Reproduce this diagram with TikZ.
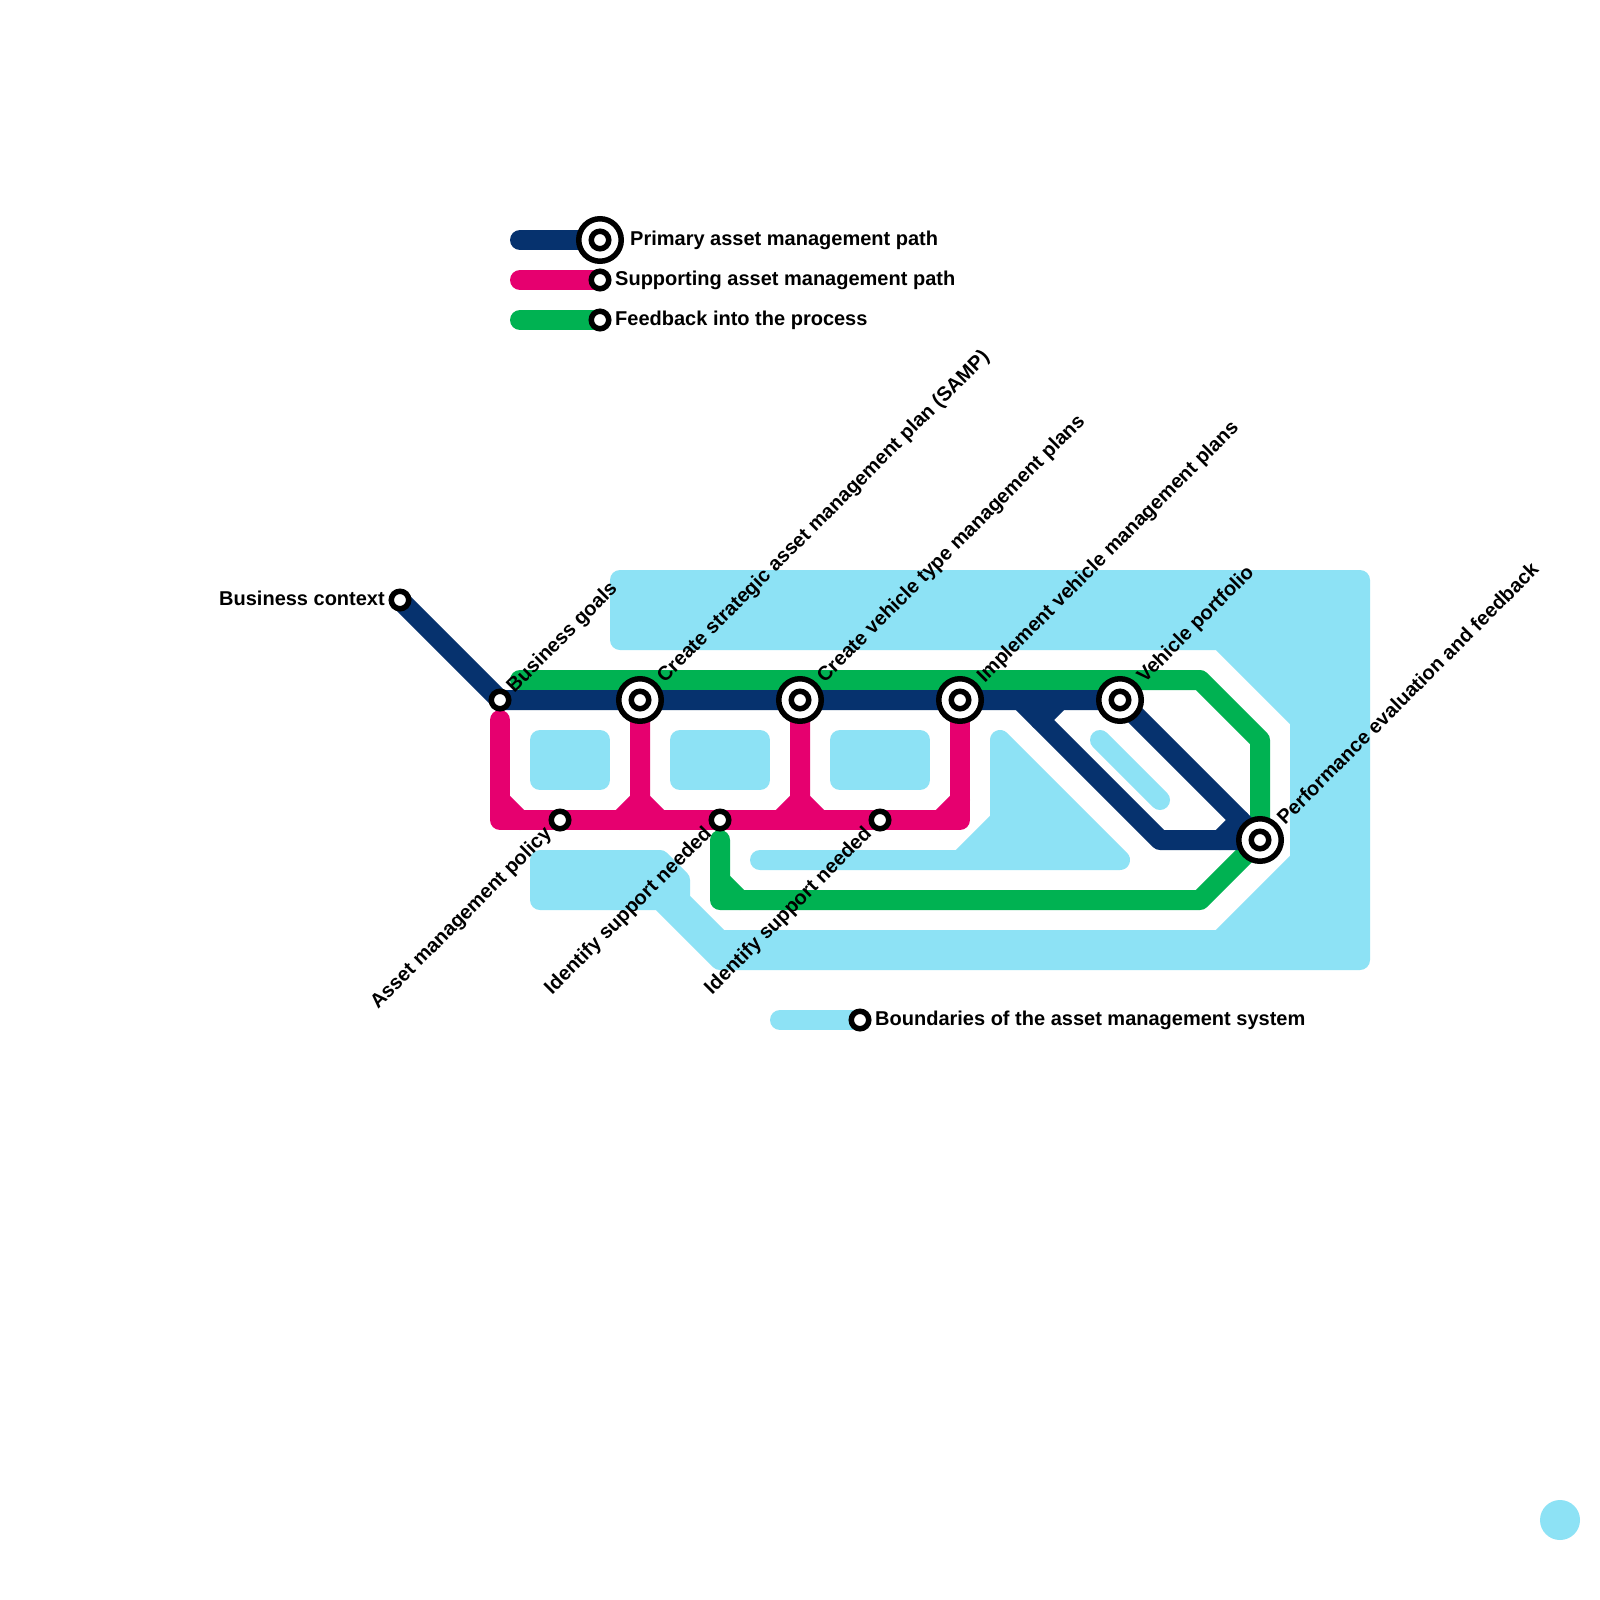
\documentclass[tikz,border=0pt]{standalone}
\usepackage{fontspec}
\setmainfont{Liberation Sans}
\usetikzlibrary{backgrounds}
\definecolor{navyline}{HTML}{06326E}
\definecolor{pinkline}{HTML}{E6006F}
\definecolor{greenline}{HTML}{00B252}
\definecolor{paleline}{HTML}{8DE2F5}

\begin{document}
\begin{tikzpicture}[
    x=20pt, y=-20pt,
    track/.style={line width=20pt, line cap=round, line join=round},
    boundary/.style={track, draw=paleline, fill=paleline},
    stop/.style={circle, draw=black, fill=white, line width=5.5pt, minimum size=17.5pt, inner sep=0pt},
    hub/.style={stop, minimum size=42.5pt, path picture={\draw[black, fill=white, line width=5.5pt] (path picture bounding box.center) circle (8.75pt);}},
    plain/.style={inner sep=0pt, font=\fontsize{20}{23}\selectfont\bfseries},
    textup/.style={plain, rotate=45, anchor=west},
    textdown/.style={plain, rotate=45, anchor=east}
]
    \useasboundingbox (0,0) rectangle (80,80);

    % Stops on the primary path
    \node[stop] (context) at (20,30) {};
    \node[stop] (goals) at (25,35) {};
    \node[hub] (samp) at (32,35) {};
    \node[hub] (typeplan) at (40,35) {};
    \node[hub] (vehplan) at (48,35) {};
    \node[hub] (portfolio) at (56,35) {};
    \node[hub] (review) at (63,42) {};

    % Stops on the supporting path
    \node[stop] (policy) at (28,41) {};
    \node[stop] (supportone) at (36,41) {};
    \node[stop] (supporttwo) at (44,41) {};

    % Stop labels
    \node[plain, anchor=east] (contexttext) at (19.25,29.9) {Business context};
    \node[textup] (goalstext) at (25.53,34.5) {Business goals};
    \node[textup] (samptext) at (33.05,34.0) {Create strategic asset management plan (SAMP)};
    \node[textup] (typeplantext) at (41.05,34.0) {Create vehicle type management plans};
    \node[textup] (vehplantext) at (49.05,34.0) {Implement vehicle management plans};
    \node[textup] (portfoliotext) at (57.05,34.0) {Vehicle portfolio};
    \node[textup] (reviewtext) at (64.0,41.03) {Performance evaluation and feedback};
    \node[textdown] (policytext) at (27.45,41.55) {Asset management policy};
    \node[textdown] (supportonetext) at (35.45,41.55) {Identify support needed};
    \node[textdown] (supporttwotext) at (43.45,41.55) {Identify support needed};

    % Legend
    \node[hub] (keyprimary) at (30,12) {};
    \node[stop] (keysupport) at (30,14) {};
    \node[stop] (keyfeedback) at (30,16) {};
    \node[stop] (keyboundary) at (43,51) {};
    \node[plain, anchor=west] (keyprimarytext) at (31.5,12) {Primary asset management path};
    \node[plain, anchor=west] (keysupporttext) at (30.75,14) {Supporting asset management path};
    \node[plain, anchor=west] (keyfeedbacktext) at (30.75,16) {Feedback into the process};
    \node[plain, anchor=west] (keyboundarytext) at (43.75,51) {Boundaries of the asset management system};

    % Bends and free ends
    \coordinate (navyfork) at (51,35);
    \coordinate (navybend) at (58,42);
    \coordinate (navytiea) at (53,35);
    \coordinate (navytieb) at (52,36);
    \coordinate (navytiec) at (61,42);
    \coordinate (navytied) at (62,41);
    \coordinate (pinkstart) at (25,36);
    \coordinate (pinkleft) at (25,41);
    \coordinate (pinkright) at (48,41);
    \coordinate (pinklefta) at (25,40);
    \coordinate (pinkleftb) at (26,41);
    \coordinate (pinksampa) at (32,40);
    \coordinate (pinksampb) at (31,41);
    \coordinate (pinksampc) at (33,41);
    \coordinate (pinktypea) at (40,40);
    \coordinate (pinktypeb) at (39,41);
    \coordinate (pinktypec) at (41,41);
    \coordinate (pinkveha) at (48,40);
    \coordinate (pinkvehb) at (47,41);
    \coordinate (greenstart) at (36,42);
    \coordinate (greencorner) at (36,45);
    \coordinate (greentiea) at (36,44);
    \coordinate (greentieb) at (37,45);
    \coordinate (greenlow) at (60,45);
    \coordinate (greenside) at (63,37);
    \coordinate (greentop) at (60,34);
    \coordinate (greenend) at (26,34);
    \coordinate (keyprimarystart) at (26,12);
    \coordinate (keysupportstart) at (26,14);
    \coordinate (keyfeedbackstart) at (26,16);
    \coordinate (keyboundarystart) at (39,51);

    \begin{scope}[on background layer]
        % System boundary
        \fill[white] (0,0) rectangle (80,80);
        \path[boundary] (31,29) -- (68,29) -- (68,48) -- (36,48) -- (33,45) -- (27,45) -- (27,43) -- (33,43) -- (34,44) -- (34,45) -- (36,47) -- (61,47) -- (65,43) -- (65,36) -- (61,32) -- (31,32) -- cycle;
        \path[boundary] (27,37) rectangle (30,39);
        \path[boundary] (34,37) rectangle (38,39);
        \path[boundary] (42,37) rectangle (46,39);
        \path[boundary] (38,43) -- (48,43) -- (50,41) -- (50,37) -- (56,43) -- cycle;
        \path[boundary] (55,37) -- (58,40);
        \fill[paleline] (78,76) circle (20pt);

        % Feedback path
        \draw[track, greenline] (greenstart) -- (greencorner) -- (greenlow) -- (review.center) -- (greenside) -- (greentop) -- (greenend);
        \draw[track, greenline] (greentiea) -- (greentieb);

        % Supporting path
        \draw[track, pinkline] (pinkstart) -- (pinkleft) -- (pinkright) -- (vehplan.center);
        \draw[track, pinkline] (pinklefta) -- (pinkleftb);
        \draw[track, pinkline] (samp.center) -- (pinksampa) -- (pinksampb);
        \draw[track, pinkline] (pinksampa) -- (pinksampc);
        \draw[track, pinkline] (typeplan.center) -- (pinktypea) -- (pinktypeb);
        \draw[track, pinkline] (pinktypea) -- (pinktypec);
        \draw[track, pinkline] (pinkveha) -- (pinkvehb);

        % Primary path
        \draw[track, navyline] (context.center) -- (goals.center) -- (portfolio.center) -- (review.center);
        \draw[track, navyline] (navyfork) -- (navybend) -- (review.center);
        \draw[track, navyline] (navytiea) -- (navytieb);
        \draw[track, navyline] (navytiec) -- (navytied);

        % Legend lines
        \draw[track, navyline] (keyprimarystart) -- (keyprimary.center);
        \draw[track, pinkline] (keysupportstart) -- (keysupport.center);
        \draw[track, greenline] (keyfeedbackstart) -- (keyfeedback.center);
        \draw[track, paleline] (keyboundarystart) -- (keyboundary.center);
    \end{scope}
\end{tikzpicture}
\end{document}
